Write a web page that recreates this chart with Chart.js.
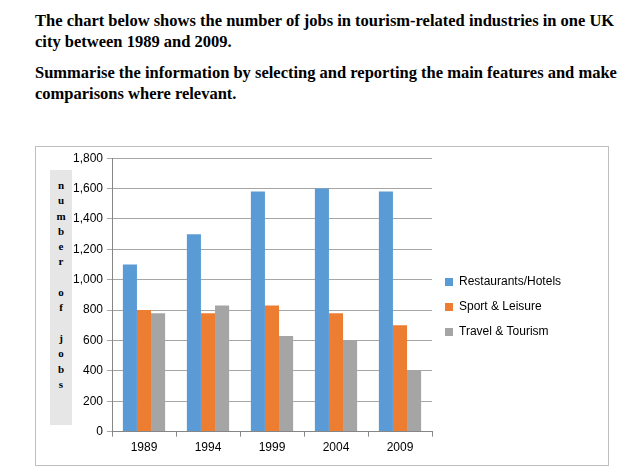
<!DOCTYPE html>
<html lang="en">
<head>
<meta charset="UTF-8">
<title>Tourism jobs</title>
<script src="https://cdn.jsdelivr.net/npm/chart.js@4"></script>
<style>
body { margin: 0; background: #fff; width: 640px; height: 471px; position: relative; overflow: hidden; }
#heading { position: absolute; left: 35px; top: 10px; width: 590px; font-family: "Liberation Serif", serif; font-weight: bold; font-size: 16.5px; line-height: 21px; color: #000; }
#heading p { margin: 0 0 10px 0; }
#box { position: absolute; left: 35px; top: 146px; width: 572px; height: 318px; border: 1px solid #bfbfbf; }
#ylabel { position: absolute; left: 14px; top: 23px; width: 22px; height: 255px; background: #e6e6e6; font-family: "Liberation Serif", serif; font-weight: bold; font-size: 11px; line-height: 15.3px; text-align: center; padding-top: 8px; box-sizing: border-box; }
</style>
</head>
<body>
<div id="heading">
	<p>The chart below shows the number of jobs in tourism-related industries in one UK city between 1989 and 2009.</p>
	<p>Summarise the information by selecting and reporting the main features and make comparisons where relevant.</p>
</div>
<div id="box">
	<canvas id="chart" width="572" height="318"></canvas>
	<div id="ylabel">n<br>u<br>m<br>b<br>e<br>r<br><br>o<br>f<br><br>j<br>o<br>b<br>s</div>
</div>
<script type="text/javascript">
const years = ['1989', '1994', '1999', '2004', '2009'];
const restaurants = [1100, 1300, 1580, 1600, 1580];
const sport = [800, 780, 830, 780, 700];
const travel = [780, 830, 630, 600, 400];

const legendWidth = {
	id: 'legendWidth',
	beforeInit(chart) {
		const fit = chart.legend.fit;
		chart.legend.fit = function () { fit.bind(this)(); this.width = 176; };
	}
};

new Chart(document.getElementById('chart'), {
	type: 'bar',
	data: {
		labels: years,
		datasets: [
			{ label: 'Restaurants/Hotels', data: restaurants, backgroundColor: '#5b9bd5' },
			{ label: 'Sport & Leisure', data: sport, backgroundColor: '#ed7d31' },
			{ label: 'Travel & Tourism', data: travel, backgroundColor: '#a5a5a5' }
		]
	},
	options: {
		responsive: false,
		animation: false,
		layout: { padding: { top: 8, bottom: 6, left: 0, right: 0 } },
		categoryPercentage: 0.66,
		barPercentage: 1,
		plugins: {
			tooltip: { enabled: false },
			legend: {
				position: 'right',
				labels: { boxWidth: 8, boxHeight: 8, padding: 13, color: '#000', font: { family: 'Liberation Sans', size: 12 } }
			}
		},
		scales: {
			x: {
				grid: { offset: true, drawOnChartArea: false, tickLength: 5, color: '#868686' },
				border: { color: '#868686' },
				ticks: { color: '#000', font: { family: 'Liberation Sans', size: 12 }, padding: 4 }
			},
			y: {
				min: 0, max: 1800,
				afterFit(s) { s.width = 76; },
				grid: { color: '#a6a6a6', tickLength: 5 },
				border: { color: '#868686' },
				ticks: { stepSize: 200, color: '#000', font: { family: 'Liberation Sans', size: 12 }, padding: 4 }
			}
		}
	},
	plugins: [legendWidth]
});
</script>
</body>
</html>
